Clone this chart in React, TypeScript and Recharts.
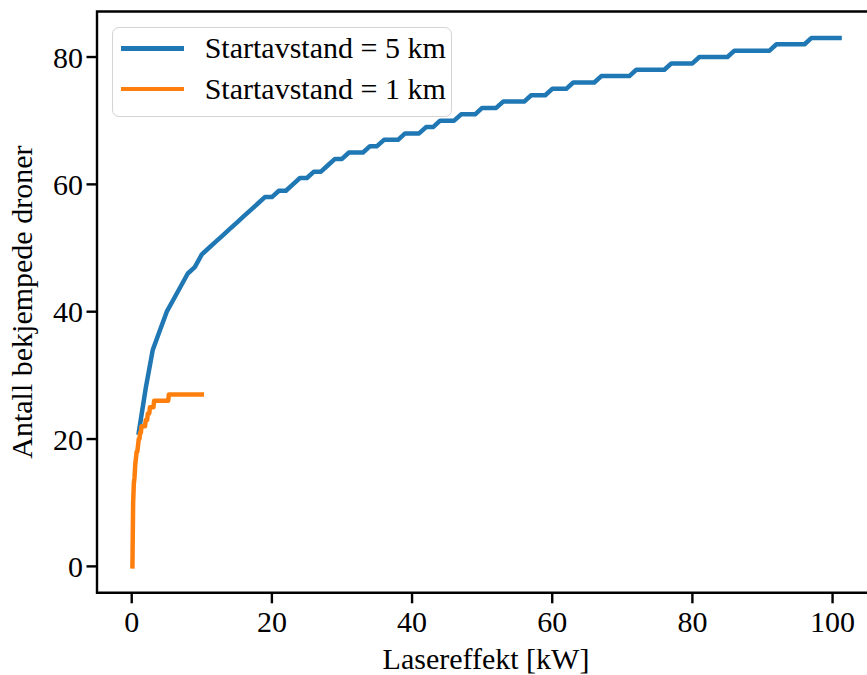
import React from 'react';
import { LineChart, Line, XAxis, YAxis, ReferenceArea } from 'recharts';

const FONT = '"Liberation Serif", "Times New Roman", serif';

// Startavstand = 5 km, sampled every kW
const BLUE_KW = [
  1, 2, 3, 4, 5, 6, 7, 8, 9, 10,
  11, 12, 13, 14, 15, 16, 17, 18, 19, 20,
  21, 22, 23, 24, 25, 26, 27, 28, 29, 30,
  31, 32, 33, 34, 35, 36, 37, 38, 39, 40,
  41, 42, 43, 44, 45, 46, 47, 48, 49, 50,
  51, 52, 53, 54, 55, 56, 57, 58, 59, 60,
  61, 62, 63, 64, 65, 66, 67, 68, 69, 70,
  71, 72, 73, 74, 75, 76, 77, 78, 79, 80,
  81, 82, 83, 84, 85, 86, 87, 88, 89, 90,
  91, 92, 93, 94, 95, 96, 97, 98, 99, 100, 101,
];
const BLUE_COUNT = [
  21, 28, 34, 37, 40, 42, 44, 46, 47, 49,
  50, 51, 52, 53, 54, 55, 56, 57, 58, 58,
  59, 59, 60, 61, 61, 62, 62, 63, 64, 64,
  65, 65, 65, 66, 66, 67, 67, 67, 68, 68,
  68, 69, 69, 70, 70, 70, 71, 71, 71, 72,
  72, 72, 73, 73, 73, 73, 74, 74, 74, 75,
  75, 75, 76, 76, 76, 76, 77, 77, 77, 77,
  77, 78, 78, 78, 78, 78, 79, 79, 79, 79,
  80, 80, 80, 80, 80, 81, 81, 81, 81, 81,
  81, 82, 82, 82, 82, 82, 83, 83, 83, 83, 83,
];

// Startavstand = 1 km
const ORANGE_KW = [
  0.1, 0.2, 0.3, 0.4, 0.5, 0.6, 0.7, 0.8, 0.9, 1.0,
  1.1, 1.2, 1.3, 1.4, 1.9, 2.0, 2.2, 2.3, 2.5, 2.6,
  3.1, 3.2, 5.2, 5.3, 10.0,
];
const ORANGE_COUNT = [
  0, 10, 13, 14, 16, 17, 18, 18, 19, 20,
  20, 21, 21, 22, 22, 23, 23, 24, 24, 25,
  25, 26, 26, 27, 27,
];

const SERIES_NAMES = ['Startavstand = 5 km', 'Startavstand = 1 km'];
const SERIES_COLORS = ['#1f77b4', '#ff7f0e'];

const X_TICKS = [0, 20, 40, 60, 80, 100];
const Y_TICKS = [0, 20, 40, 60, 80];
const X_DOMAIN = [-4.955, 106.055];
const Y_DOMAIN = [-4.15, 87.15];

const blueData = BLUE_KW.map((kw, i) => ({ kw, count: BLUE_COUNT[i] }));
const orangeData = ORANGE_KW.map((kw, i) => ({ kw, count: ORANGE_COUNT[i] }));

const tickStyle = { fill: '#000', fontSize: 30, fontFamily: FONT };

export default function App() {
  return (
    <div
      style={{
        position: 'absolute',
        left: 0,
        top: 0,
        width: 867,
        height: 675,
        overflow: 'hidden',
        background: '#fff',
      }}
    >
      <LineChart
        width={900}
        height={675}
        margin={{ top: 11.5, right: 25, left: 0, bottom: 0 }}
      >
        <XAxis
          type="number"
          dataKey="kw"
          domain={X_DOMAIN}
          ticks={X_TICKS}
          interval={0}
          allowDataOverflow
          height={82.2}
          axisLine={false}
          tickLine={{ stroke: '#000', strokeWidth: 2.4 }}
          tickSize={10.5}
          tickMargin={7.4}
          tick={tickStyle}
          label={{
            value: 'Lasereffekt [kW]',
            position: 'insideBottom',
            offset: 6,
            fill: '#000',
            fontSize: 30,
            fontFamily: FONT,
          }}
        />
        <YAxis
          type="number"
          dataKey="count"
          domain={Y_DOMAIN}
          ticks={Y_TICKS}
          interval={0}
          allowDataOverflow
          width={97}
          axisLine={false}
          tickLine={{ stroke: '#000', strokeWidth: 2.4 }}
          tickSize={10.5}
          tickMargin={3.5}
          tick={tickStyle}
          label={{
            value: 'Antall bekjempede droner',
            angle: -90,
            position: 'insideLeft',
            offset: 21.4,
            fill: '#000',
            fontSize: 30,
            fontFamily: FONT,
            style: { textAnchor: 'middle' },
          }}
        />
        <Line
          data={blueData}
          dataKey="count"
          name={SERIES_NAMES[0]}
          type="linear"
          stroke={SERIES_COLORS[0]}
          strokeWidth={4.5}
          strokeLinecap="square"
          strokeLinejoin="round"
          dot={false}
          activeDot={false}
          isAnimationActive={false}
        />
        <Line
          data={orangeData}
          dataKey="count"
          name={SERIES_NAMES[1]}
          type="linear"
          stroke={SERIES_COLORS[1]}
          strokeWidth={4.5}
          strokeLinecap="square"
          strokeLinejoin="round"
          dot={false}
          activeDot={false}
          isAnimationActive={false}
        />
        {/* axes frame */}
        <ReferenceArea
          x1={X_DOMAIN[0]}
          x2={X_DOMAIN[1]}
          y1={Y_DOMAIN[0]}
          y2={Y_DOMAIN[1]}
          ifOverflow="visible"
          fill="none"
          fillOpacity={0}
          stroke="#000"
          strokeWidth={2.4}
        />
      </LineChart>

      {/* legend box, upper left */}
      <div
        style={{
          position: 'absolute',
          left: 111.7,
          top: 26.7,
          width: 340.6,
          height: 90,
          boxSizing: 'border-box',
          border: '1.5px solid #d4d4d4',
          borderRadius: 7,
          background: 'rgba(255,255,255,0.8)',
          fontFamily: FONT,
          fontSize: 30,
          color: '#000',
        }}
      >
        {SERIES_NAMES.map((name, i) => {
          const cy = 22.3 + i * 40.3 - 1.5;
          return (
            <React.Fragment key={name}>
              <div
                style={{
                  position: 'absolute',
                  left: 8.5,
                  top: cy - 2.25,
                  width: 62.6,
                  height: 4.5,
                  background: SERIES_COLORS[i],
                }}
              />
              <div
                style={{
                  position: 'absolute',
                  left: 92,
                  top: cy - 20,
                  height: 40,
                  lineHeight: '40px',
                  whiteSpace: 'nowrap',
                }}
              >
                {name}
              </div>
            </React.Fragment>
          );
        })}
      </div>
    </div>
  );
}
